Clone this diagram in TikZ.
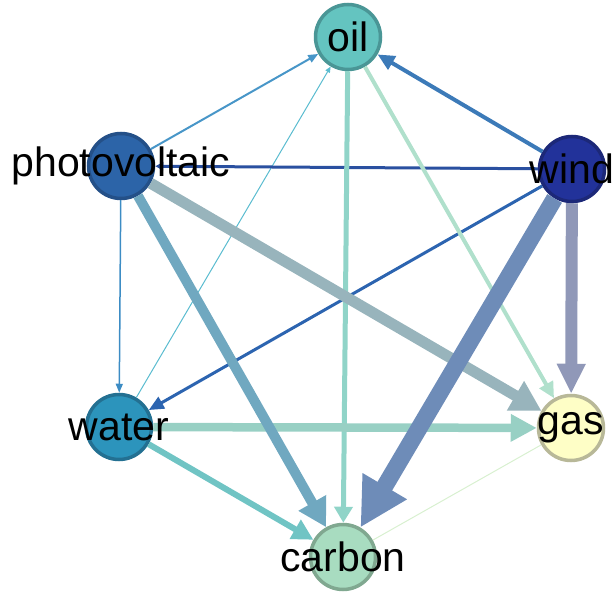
\documentclass[tikz,border=0pt]{standalone}
\usepackage{fontspec}
\setmainfont{Liberation Sans}
\usetikzlibrary{arrows.meta}
\definecolor{cOilF}{HTML}{64C4C0}\definecolor{cOilD}{HTML}{4A9696}
\definecolor{cPvF}{HTML}{2C64A8}\definecolor{cPvD}{HTML}{245088}
\definecolor{cWindF}{HTML}{22329A}\definecolor{cWindD}{HTML}{1C2878}
\definecolor{cWaterF}{HTML}{2C94BC}\definecolor{cWaterD}{HTML}{237092}
\definecolor{cGasF}{HTML}{FEFEC6}\definecolor{cGasD}{HTML}{B8B898}
\definecolor{cCarbF}{HTML}{A8DCC0}\definecolor{cCarbD}{HTML}{80A890}
\definecolor{eWindOil}{HTML}{3C7AB8}
\definecolor{ePvOil}{HTML}{4896C8}
\definecolor{eWaterOil}{HTML}{5ABCD0}
\definecolor{eWindPv}{HTML}{2A50A0}
\definecolor{ePvGas}{HTML}{98B4BC}
\definecolor{ePvCarb}{HTML}{70A8C0}
\definecolor{ePvWater}{HTML}{3C8CC4}
\definecolor{eWindWater}{HTML}{2C64B0}
\definecolor{eWindCarb}{HTML}{6E8CB8}
\definecolor{eWindGas}{HTML}{9098B8}
\definecolor{eOilGas}{HTML}{B0E0CC}
\definecolor{eOilCarb}{HTML}{90D4C8}
\definecolor{eWaterGas}{HTML}{98D0C4}
\definecolor{eWaterCarb}{HTML}{70C4C4}
\definecolor{eGasCarb}{HTML}{D8F0D0}
\tikzset{
  vtx/.style={circle,draw=#1D,fill=#1F,line width=3.5pt,minimum size=65pt,inner sep=0pt},
  lbl/.style={font=\fontsize{41}{41}\selectfont,text=black,inner sep=0pt},
  edg/.style n args={4}{draw=#1,line width=#2pt,-{Triangle[length=#3pt,width=#4pt]}},
  plain/.style n args={2}{draw=#1,line width=#2pt}
}
\begin{document}
\begin{tikzpicture}[x=1pt,y=1pt]
\useasboundingbox (0,0) rectangle (615,594);
% nodes
\node[vtx=cOil] (oil) at (348,557) {};
\node[vtx=cPv] (pv) at (121,428) {};
\node[vtx=cWind] (wind) at (572,425) {};
\node[vtx=cWater] (water) at (119,167) {};
\node[vtx=cGas] (gas) at (571,166) {};
\node[vtx=cCarb] (carbon) at (343,37) {};
% edges (thin first)
\path[plain={eGasCarb}{1}] (gas) -- (carbon);
\path[edg={eWaterOil}{1}{6}{5}] (water) -- (oil);
\path[edg={ePvWater}{1.5}{9}{7}] (pv) -- (water);
\path[edg={ePvOil}{2}{10}{8}] (pv) -- (oil);
\path[edg={eWindPv}{3}{8}{8}] (wind) -- (pv);
\path[edg={eWindWater}{3}{15}{13}] (wind) -- (water);
\path[edg={eWindOil}{4}{17}{15}] (wind) -- (oil);
\path[edg={eOilGas}{4}{16}{15}] (oil) -- (gas);
\path[edg={eOilCarb}{5}{16}{18}] (oil) -- (carbon);
\path[edg={eWaterCarb}{6}{21}{21}] (water) -- (carbon);
\path[edg={eWaterGas}{8.5}{26}{26}] (water) -- (gas);
\path[edg={ePvCarb}{10}{28}{30}] (pv) -- (carbon);
\path[edg={ePvGas}{11}{30}{32}] (pv) -- (gas);
\path[edg={eWindGas}{12}{30}{27}] (wind) -- (gas);
\path[edg={eWindCarb}{17}{48}{48}] (wind) -- (carbon);
% labels
\node[lbl] (loil) at (oil.center) {oil};
\node[lbl] (lpv) at (pv.center) {photovoltaic};
\node[lbl] (lwind) at (wind.center) {wind};
\node[lbl] (lwater) at (water.center) {water};
\node[lbl] (lgas) at (gas.center) {gas};
\node[lbl] (lcarbon) at (carbon.center) {carbon};
\end{tikzpicture}
\end{document}
